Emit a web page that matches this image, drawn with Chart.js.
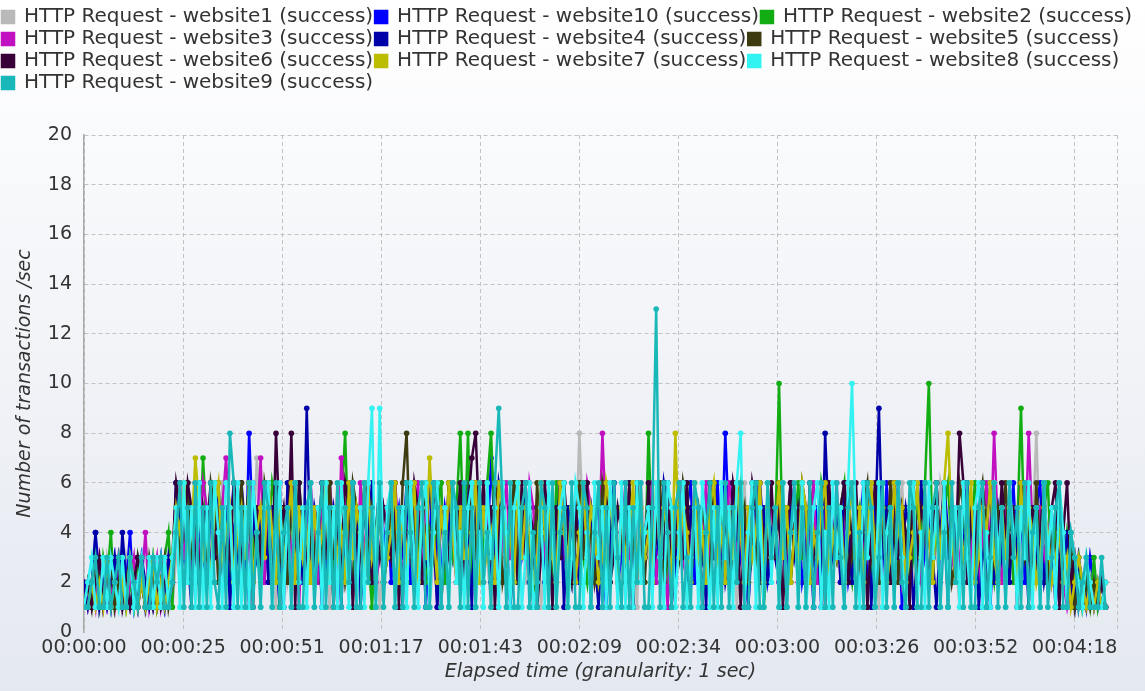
<!DOCTYPE html>
<html>
<head>
<meta charset="utf-8">
<title>Transactions per second</title>
<script src="https://cdn.jsdelivr.net/npm/chart.js@4.4.1/dist/chart.umd.min.js"></script>
<style>
  html, body { margin: 0; padding: 0; background: #fff; }
  #wrap { width: 1145px; height: 691px; }
</style>
</head>
<body>
<div id="wrap"><canvas id="tpsChart"></canvas></div>
<script>
// transactions per second, one value per elapsed second (t = 0 .. 266)
const seriesNames = [
  'HTTP Request - website1 (success)', 'HTTP Request - website10 (success)', 'HTTP Request - website2 (success)',
  'HTTP Request - website3 (success)', 'HTTP Request - website4 (success)', 'HTTP Request - website5 (success)',
  'HTTP Request - website6 (success)', 'HTTP Request - website7 (success)', 'HTTP Request - website8 (success)',
  'HTTP Request - website9 (success)'
];
const seriesColors = ['#b9b9b9', '#0000ff', '#12ad12', '#c010c0', '#0000a8', '#3c3c10', '#380038', '#bcbc00', '#33f2f2', '#19b8b8'];

const website1 = [
  1,1,2,1,2,1,3,2,1,2,1,3,2,1,2,2,1,3,1,2,
  1,2,3,1,3,5,4,2,5,3,4,2,5,3,4,2,6,3,2,5,
  3,4,2,5,3,7,4,2,5,3,1,4,5,2,3,6,4,2,5,3,
  2,4,5,3,1,4,6,3,2,5,4,3,2,5,6,3,4,1,3,5,
  4,2,3,5,4,6,2,3,4,5,1,3,4,6,2,5,3,4,2,3,
  5,3,4,2,6,3,1,4,5,3,2,4,5,3,6,2,4,3,5,1,
  3,4,2,5,3,6,4,2,3,8,4,5,2,3,4,6,3,2,5,4,
  2,5,3,4,1,6,4,3,5,2,4,3,6,2,5,3,4,1,3,5,
  4,2,5,3,6,4,2,3,5,4,1,3,6,2,4,5,3,2,4,3,
  5,3,2,4,6,3,5,2,4,3,1,5,4,2,6,3,4,5,2,3,
  4,3,5,2,4,6,3,1,4,5,3,2,4,6,3,5,2,4,3,5,
  2,4,3,6,5,2,4,3,1,5,4,2,6,3,4,5,2,3,4,6,
  3,5,2,4,3,6,2,4,8,3,5,2,4,3,5,2,3,4,2,3,
  1,2,3,1,2,1,1
];
const website10 = [
  2,1,1,4,2,1,2,1,3,2,1,2,4,1,2,3,1,2,1,2,
  3,1,2,2,6,4,3,5,2,4,6,3,2,5,4,3,5,2,4,6,
  3,5,2,8,4,3,5,2,6,4,3,1,5,4,2,6,3,4,5,2,
  4,3,6,2,5,3,4,1,5,3,6,2,4,5,3,2,4,6,3,5,
  2,4,5,3,6,2,4,3,5,1,4,6,3,2,5,4,3,5,2,4,
  6,3,4,2,5,3,7,4,2,5,3,4,6,2,3,5,4,1,3,5,
  4,2,5,3,6,4,3,2,5,4,6,3,2,4,5,3,1,4,6,2,
  3,5,4,2,6,3,4,5,2,3,4,6,3,5,2,4,3,5,6,2,
  4,3,5,2,4,6,3,8,4,2,5,3,4,1,5,3,6,4,2,3,
  5,2,4,3,6,4,5,2,3,4,1,5,3,6,2,4,5,3,4,2,
  3,5,4,6,2,3,5,4,2,6,3,4,5,1,3,4,6,2,5,3,
  4,2,5,3,6,4,3,5,2,4,6,3,2,5,4,3,1,4,5,3,
  2,4,6,3,5,2,4,3,5,6,2,4,3,5,2,4,3,1,3,2,
  2,1,3,2,1,2,1
];
const website2 = [
  1,2,1,2,1,3,2,4,1,2,3,1,2,1,3,2,1,2,3,1,
  2,3,4,1,5,3,6,4,2,5,3,7,4,2,6,3,5,4,2,3,
  5,2,4,6,3,5,2,4,3,6,5,1,4,3,5,2,6,4,3,5,
  2,4,3,5,6,2,4,5,8,3,2,5,4,6,3,1,4,5,2,3,
  6,4,3,5,2,4,6,3,5,2,4,3,5,6,2,4,3,5,8,3,
  8,2,5,4,3,6,8,4,2,5,3,4,6,2,5,3,4,1,5,4,
  3,5,2,6,4,3,5,2,4,6,3,2,5,4,3,6,2,4,5,3,
  4,2,6,3,5,4,2,8,3,5,4,6,2,3,5,4,3,6,2,4,
  5,3,4,2,6,3,5,4,2,3,5,6,4,2,3,5,4,1,3,5,
  4,10,3,5,2,4,6,3,5,2,4,3,6,5,2,4,3,5,6,3,
  2,4,5,3,6,2,4,3,5,4,2,6,3,5,4,2,3,5,4,6,
  10,3,4,2,5,6,3,4,2,5,3,4,6,2,4,5,3,2,4,5,
  3,5,2,4,9,3,5,2,4,3,5,6,2,4,3,2,4,3,2,3,
  1,2,1,3,1,2,1
];
const website3 = [
  2,1,2,1,3,2,1,2,1,3,2,1,2,3,1,2,4,1,2,3,
  1,2,3,2,4,6,3,5,2,4,3,6,5,2,4,3,5,7,4,3,
  5,2,4,3,6,4,7,2,5,3,4,6,2,5,3,4,1,5,3,6,
  4,2,5,3,6,4,2,7,5,3,4,2,6,3,5,4,2,3,5,4,
  3,6,4,2,5,3,4,6,2,5,3,4,1,5,3,6,4,2,5,3,
  4,5,3,2,6,4,3,5,2,4,6,3,5,2,4,3,6,5,2,4,
  3,5,4,2,6,3,4,5,2,3,4,6,5,2,3,8,4,3,5,2,
  4,6,3,5,2,4,3,5,6,2,4,3,1,5,4,6,3,2,4,5,
  3,4,6,2,5,3,4,2,6,5,3,4,2,5,3,6,4,2,3,5,
  4,2,5,3,6,4,2,5,3,4,6,2,3,5,4,3,6,2,5,4,
  3,5,2,4,6,3,4,5,2,3,6,4,5,2,3,4,6,3,2,5,
  4,3,6,2,5,4,3,5,2,6,4,3,5,2,4,6,3,8,4,2,
  5,3,4,2,6,3,8,4,2,5,3,4,2,3,4,2,1,2,1,2,
  1,1,2,1,1,2,1
];
const website4 = [
  2,1,2,4,1,2,1,2,3,1,4,2,1,2,1,3,2,1,2,1,
  2,1,3,2,6,4,5,3,1,6,4,3,5,2,4,6,3,5,1,4,
  3,6,4,1,5,3,4,6,2,5,3,4,1,6,5,3,4,2,9,3,
  5,4,1,6,3,5,4,2,3,6,4,5,1,3,4,6,3,5,2,4,
  3,5,4,1,6,3,5,2,4,3,6,4,1,5,3,4,6,2,5,3,
  4,1,6,3,5,4,2,3,6,5,4,1,3,5,4,6,2,3,5,4,
  2,5,3,4,6,1,5,4,3,2,6,4,5,3,1,4,5,3,6,2,
  4,3,5,1,6,4,3,5,2,4,3,6,5,1,3,4,6,2,5,3,
  5,4,1,6,3,5,4,2,3,6,4,5,3,1,4,6,3,5,2,4,
  3,6,4,1,5,3,4,6,2,5,3,4,1,8,4,3,5,2,6,4,
  2,5,3,4,6,1,4,9,3,5,2,4,6,3,5,4,1,3,6,4,
  5,3,1,4,6,3,5,4,2,3,6,4,5,1,3,4,6,2,5,3,
  4,2,5,3,6,4,1,5,3,4,2,3,4,1,3,2,4,2,1,3,
  2,1,2,1,2,1,1
];
const website5 = [
  1,2,1,3,2,1,2,3,1,2,1,2,3,2,1,2,1,3,2,1,
  2,3,1,2,5,3,4,6,3,5,2,4,3,6,5,2,4,3,5,2,
  4,6,3,5,2,4,3,6,5,2,4,3,5,2,6,4,3,5,2,4,
  3,5,2,4,6,3,5,4,2,3,6,5,4,2,3,5,4,6,2,3,
  5,4,2,6,8,3,5,2,4,6,3,5,4,2,3,6,4,5,2,3,
  4,6,3,5,2,4,3,6,5,2,3,4,6,2,5,3,4,2,6,3,
  5,3,4,2,6,5,3,2,4,6,3,5,4,2,3,6,5,2,4,3,
  4,2,5,3,6,4,2,5,3,4,6,2,3,5,4,3,6,5,2,4,
  3,5,4,2,6,3,4,5,2,3,6,4,5,2,4,3,6,2,5,3,
  4,6,3,5,2,4,3,6,5,2,4,3,5,6,2,4,3,5,2,6,
  3,4,2,5,6,3,4,2,5,3,6,4,2,5,3,4,6,2,3,5,
  4,2,6,3,5,4,2,3,6,5,4,2,3,5,6,4,2,3,5,4,
  6,3,4,2,5,3,4,2,6,3,5,2,4,3,5,3,2,4,1,2,
  1,2,1,2,1,1,2
];
const website6 = [
  1,2,1,2,3,1,2,1,2,3,1,2,1,2,3,2,1,2,1,2,
  1,2,2,3,6,5,4,6,5,3,2,5,4,6,3,5,2,4,3,6,
  5,3,4,6,1,5,3,4,6,2,8,4,5,3,8,1,6,4,3,5,
  2,4,6,3,5,1,4,3,6,5,1,4,3,5,6,2,4,3,5,4,
  3,6,1,5,4,3,6,5,2,4,3,5,6,1,4,3,5,4,6,2,
  5,7,8,4,6,3,5,1,4,6,3,5,4,2,6,3,5,4,1,3,
  6,4,1,5,3,6,4,2,5,3,4,6,1,5,3,4,6,2,3,5,
  4,3,6,1,5,4,3,6,2,4,5,3,6,1,4,5,3,6,2,4,
  5,1,4,6,3,5,2,4,3,6,5,1,4,3,6,5,2,4,3,6,
  3,5,1,4,6,3,5,4,2,6,3,4,5,1,6,4,3,5,6,2,
  4,6,3,5,1,4,6,3,5,4,2,6,3,5,4,1,6,3,5,4,
  2,4,6,3,5,1,4,3,8,6,2,5,4,3,6,1,4,5,3,6,
  4,3,5,1,6,4,3,5,2,4,6,3,5,6,1,4,6,2,3,1,
  2,1,2,1,1,2,1
];
const website7 = [
  1,1,2,1,2,1,3,1,2,1,2,1,3,2,1,2,1,2,3,1,
  2,1,2,3,5,4,6,3,4,7,5,3,4,2,5,6,3,4,5,2,
  4,5,3,6,2,4,5,3,6,4,2,5,3,4,6,2,5,3,4,2,
  5,3,4,6,2,5,3,4,2,6,3,5,4,2,6,3,4,5,2,3,
  4,6,2,5,3,4,6,2,5,3,7,4,2,5,3,6,4,2,5,3,
  3,4,6,2,5,3,4,2,6,5,3,4,2,6,3,5,4,2,3,6,
  4,5,3,2,6,4,3,5,2,4,6,3,5,4,2,3,6,5,4,2,
  5,3,4,6,2,5,3,4,2,6,3,5,4,2,8,3,5,4,2,6,
  3,4,2,5,6,3,4,2,5,3,6,4,2,5,3,4,6,2,5,3,
  4,6,3,5,2,4,3,6,5,2,4,3,5,6,2,4,3,5,2,4,
  6,3,5,2,4,6,3,4,5,2,3,6,4,5,2,3,4,6,3,5,
  4,2,5,3,6,8,4,2,5,3,4,6,2,3,5,4,6,3,2,5,
  3,5,4,2,6,3,5,4,2,3,5,4,2,3,4,2,3,1,2,3,
  2,1,2,1,2,1,1
];
const website8 = [
  1,2,3,1,1,3,1,3,2,1,3,1,3,1,2,3,1,3,1,3,
  1,3,1,3,5,1,6,2,5,1,6,1,5,1,6,4,1,6,5,1,
  6,1,5,1,6,4,1,5,6,1,4,6,1,5,1,6,2,5,1,6,
  1,5,1,6,2,5,1,6,4,1,6,1,5,1,6,9,1,9,2,5,
  6,1,4,5,1,6,3,1,5,6,1,4,6,1,5,1,6,2,4,1,
  5,6,1,4,1,6,3,5,1,6,4,1,5,6,1,3,6,1,2,5,
  1,6,4,1,5,6,1,3,6,5,1,4,1,6,3,5,1,6,4,1,
  6,1,5,1,6,2,4,5,1,6,3,1,6,5,1,4,6,1,3,5,
  1,6,4,1,5,1,6,3,5,1,6,8,1,4,6,1,5,1,6,2,
  5,1,6,1,4,5,1,6,1,3,5,6,1,4,1,6,3,5,1,6,
  10,4,1,6,3,5,1,6,1,4,5,1,6,3,1,5,6,1,4,1,
  6,3,5,1,6,1,4,5,1,6,3,1,5,6,1,4,1,6,3,5,
  1,6,4,1,5,3,6,1,5,1,6,3,5,1,6,4,1,4,3,2,
  1,3,2,1,1,1,2
];
const website9 = [
  1,1,2,3,1,1,3,1,2,3,1,1,3,2,1,3,1,1,3,2,
  3,1,1,2,4,6,1,5,1,6,1,5,1,6,2,1,5,1,8,6,
  1,5,1,6,1,4,1,6,5,1,6,1,4,5,1,6,1,1,5,6,
  1,4,6,1,5,1,6,1,5,2,6,1,1,6,2,5,1,6,1,4,
  6,1,5,1,6,4,1,5,6,1,1,6,5,1,4,1,6,5,1,6,
  1,5,1,6,2,4,1,6,9,5,1,6,1,1,5,6,1,4,1,6,
  5,1,6,1,4,5,1,6,1,1,6,5,1,4,6,1,5,1,6,3,
  1,6,1,5,2,6,1,1,5,13,1,6,4,1,5,6,1,3,1,6,
  5,1,4,6,1,5,1,6,1,5,2,6,1,1,5,6,1,1,6,3,
  5,1,6,1,4,6,1,5,1,6,1,4,6,1,5,1,6,3,1,5,
  6,1,4,1,6,5,1,3,6,1,5,1,6,2,1,6,5,1,1,6,
  1,5,6,1,4,1,6,2,5,1,6,1,1,5,6,1,3,6,1,5,
  1,6,3,5,1,6,1,4,5,1,6,1,3,5,6,1,1,4,3,1,
  2,3,1,1,1,3,1
];

const seriesValues = [website1, website10, website2, website3, website4, website5, website6, website7, website8, website9];

const yTicks = [0, 2, 4, 6, 8, 10, 12, 14, 16, 18, 20];
const xTickSeconds = [0, 25.8, 51.6, 77.4, 103.2, 129, 154.8, 180.6, 206.4, 232.2, 258];
const xMax = 269;

function hms(sec) {
  const s = Math.floor(sec + 1e-6);
  const pad = n => String(n).padStart(2, '0');
  return pad(Math.floor(s / 3600)) + ':' + pad(Math.floor(s / 60) % 60) + ':' + pad(s % 60);
}

// light top-to-bottom wash behind everything
const backdrop = {
  id: 'backdrop',
  beforeDraw(chart) {
    const { ctx, width, height } = chart;
    const g = ctx.createLinearGradient(0, 0, 0, height);
    g.addColorStop(0, '#ffffff');
    g.addColorStop(1, '#e4e8f0');
    ctx.save();
    ctx.fillStyle = g;
    ctx.fillRect(0, 0, width, height);
    ctx.restore();
  }
};

// leave some room between the legend block and the plot
const legendGap = {
  id: 'legendGap',
  beforeLayout(chart) {
    const legend = chart.legend;
    if (!legend || legend._gapPatched) return;
    const fit = legend.fit;
    legend.fit = function () {
      fit.call(this);
      this.height += 32;
    };
    legend._gapPatched = true;
  }
};

const datasets = seriesValues.map((vals, i) => ({
  label: seriesNames[i],
  data: vals.map((v, t) => ({ x: t, y: v })),
  borderColor: seriesColors[i],
  backgroundColor: seriesColors[i],
  pointBackgroundColor: seriesColors[i],
  borderWidth: 2.5,
  pointRadius: 2.8,
  pointBorderWidth: 0,
  tension: 0,
  // later series are painted over earlier ones
  order: seriesValues.length - i
}));

const gridColor = '#c2c2c2';

new Chart(document.getElementById('tpsChart'), {
  type: 'line',
  data: { datasets },
  plugins: [backdrop, legendGap],
  options: {
    responsive: true,
    maintainAspectRatio: false,
    animation: false,
    events: [],
    layout: { padding: { left: 0, right: 0, top: 5, bottom: 0 } },
    plugins: {
      legend: {
        position: 'top',
        align: 'start',
        labels: {
          boxWidth: 12,
          boxHeight: 12,
          padding: 2,
          color: '#333',
          font: { family: 'DejaVu Sans', size: 20 },
          sort: (a, b) => a.datasetIndex - b.datasetIndex
        }
      },
      tooltip: { enabled: false }
    },
    scales: {
      x: {
        type: 'linear',
        min: 0,
        max: xMax,
        afterBuildTicks: s => { s.ticks = xTickSeconds.concat([xMax]).map(v => ({ value: v })); },
        afterFit: s => { s.height = 59; s.paddingRight = 28; },
        border: { display: false, dash: [4, 3] },
        grid: { color: gridColor, lineWidth: 1, drawTicks: false },
        ticks: {
          autoSkip: false,
          maxRotation: 0,
          padding: 5,
          color: '#333',
          font: { family: 'DejaVu Sans', size: 19 },
          callback: v => (v === xMax ? '' : hms(v))
        },
        title: {
          display: true,
          text: 'Elapsed time (granularity: 1 sec)',
          color: '#333',
          font: { family: 'DejaVu Sans', size: 19, style: 'italic' },
          padding: { top: 0, bottom: 8 }
        }
      },
      y: {
        min: 0,
        max: 20,
        afterBuildTicks: s => { s.ticks = yTicks.map(v => ({ value: v })); },
        afterFit: s => { s.width = 84; },
        border: { display: true, color: '#a8a8a8', width: 1.5, dash: [4, 3] },
        grid: {
          color: ctx => (ctx.tick && ctx.tick.value === 0 ? 'rgba(0,0,0,0)' : gridColor),
          lineWidth: 1,
          drawTicks: false
        },
        ticks: {
          padding: 12,
          color: '#333',
          font: { family: 'DejaVu Sans', size: 19 }
        },
        title: {
          display: true,
          text: 'Number of transactions /sec',
          color: '#333',
          font: { family: 'DejaVu Sans', size: 19, style: 'italic' },
          padding: { top: 14, bottom: 0 }
        }
      }
    }
  }
});
</script>
</body>
</html>
